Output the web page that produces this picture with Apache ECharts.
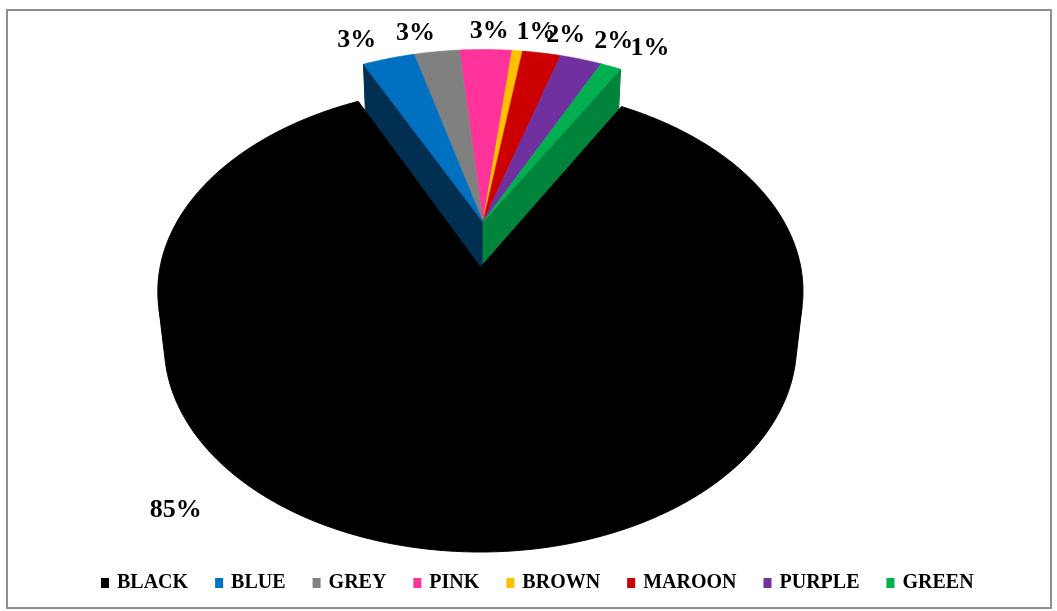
<!DOCTYPE html>
<html><head><meta charset="utf-8">
<script src="https://cdn.jsdelivr.net/npm/echarts@6/dist/echarts.min.js"></script>
<style>html,body{margin:0;padding:0;background:#fff}#c{width:1057px;height:611px}</style>
</head><body><div id="c"></div>
<script>
// ---- data ----
const categories = ['BLACK', 'BLUE', 'GREY', 'PINK', 'BROWN', 'MAROON', 'PURPLE', 'GREEN'];
const values = [85.0, 3.0, 2.6, 3.0, 0.6, 2.2, 2.4, 1.2];
const colors = ['#000000', '#0070C0', '#808080', '#FF3399', '#FFC000', '#CC0000', '#7030A0', '#00B050'];

// ---- 3D view settings ----
const START_DEG = 29;          // first slice starts here, clockwise from the back
const TILT = 38 * Math.PI / 180;
const RHO = 0.1442;            // perspective strength
const K = 312;                 // screen scale
const CX = 483, CY = 222;      // projected pie centre
const DEPTH = 0.22;            // thickness of the pie
const PULL = { BLACK: 0.23 };  // exploded slice distance
const BIG_LABEL_DEG = 225;
const FONT = '"Liberation Serif", "Times New Roman", serif';

const S = Math.sin(TILT), C = Math.cos(TILT);
const CAM = [0, -C / RHO, S / RHO];
const total = values.reduce((a, b) => a + b, 0);
const cum = [];
values.reduce((acc, v, i) => { cum[i] = acc; return acc + v; }, 0);
const D2R = Math.PI / 180;

function proj(X, Y, Z) {
  const yc = Y * S + Z * C;
  const zc = 1 + RHO * (Y * C - Z * S);
  return [CX + K * X / zc, CY - K * yc / zc];
}
function darken(hex, f) {
  const n = parseInt(hex.slice(1), 16);
  const r = Math.round(((n >> 16) & 255) * f), g = Math.round(((n >> 8) & 255) * f), b = Math.round((n & 255) * f);
  return 'rgb(' + r + ',' + g + ',' + b + ')';
}
function sliceGeom(i) {
  const a = (START_DEG + 360 * cum[i] / total) * D2R;
  const b = a + 360 * values[i] / total * D2R;
  const mid = (a + b) / 2;
  const p = PULL[categories[i]] || 0;
  return { a, b, mid, ox: p * Math.sin(mid), oy: p * Math.cos(mid), pull: p };
}
function poly(points, fill, z2, lw) {
  return { type: 'polygon', z2, shape: { points }, style: { fill, stroke: fill, lineWidth: lw, lineJoin: 'round' } };
}

function renderItem(params, api) {
  const i = params.dataIndex;
  const n = categories.length;
  const g = sliceGeom(i);
  const color = colors[i];
  const pt = (th, r, Z) => proj(g.ox + r * Math.sin(th), g.oy + r * Math.cos(th), Z);
  const centroidY = g.oy + 0.5 * Math.cos(g.mid);
  const zb = Math.round((2 - centroidY) * 100);
  const children = [];
  const steps = Math.max(2, Math.ceil((g.b - g.a) / (0.5 * D2R)));
  const arc = (Z) => { const pts = []; for (let k = 0; k <= steps; k++) pts.push(pt(g.a + (g.b - g.a) * k / steps, 1, Z)); return pts; };
  const big = g.pull > 0;

  // outer wall, visible parts only (top edge tucked under the top face)
  let run = [];
  const flush = () => {
    if (run.length > 1) {
      const top = run.map(th => pt(th, 0.97, 0));
      const bot = run.map(th => pt(th, 1, -DEPTH)).reverse();
      const side = [pt(run[run.length - 1], 1, 0)];
      const side0 = [pt(run[0], 1, 0)];
      children.push(poly(side0.concat(top, side, bot), darken(color, 0.6), zb, 1));
    }
    run = [];
  };
  for (let k = 0; k <= steps; k++) {
    const th = g.a + (g.b - g.a) * k / steps;
    const sx = Math.sin(th), cy = Math.cos(th);
    const dot = sx * (CAM[0] - g.ox - sx) + cy * (CAM[1] - g.oy - cy);
    if (dot > 0) run.push(th); else flush();
  }
  flush();

  // radial faces at gaps
  const faces = [
    { th: g.a, nb: (i - 1 + n) % n, nx: -Math.cos(g.a), ny: Math.sin(g.a) },
    { th: g.b, nb: (i + 1) % n, nx: Math.cos(g.b), ny: -Math.sin(g.b) }
  ];
  faces.forEach(f => {
    const nbPull = PULL[categories[f.nb]] || 0;
    if (nbPull === g.pull) return;
    const px = g.ox + 0.5 * Math.sin(f.th), py = g.oy + 0.5 * Math.cos(f.th);
    const dot = f.nx * (CAM[0] - px) + f.ny * (CAM[1] - py);
    if (dot <= 0) return;
    const pts = [proj(g.ox, g.oy, 0), pt(f.th, 1, 0), pt(f.th, 1, -DEPTH), proj(g.ox, g.oy, -DEPTH)];
    children.push(poly(pts, darken(color, f.nx < 0 ? 0.42 : 0.75), zb, 1));
  });

  // top face
  children.push(poly([proj(g.ox, g.oy, 0)].concat(arc(0)), color, zb + 1, big ? 1 : 0.6));

  // label
  const pct = api.value(0) / total * 100;
  const txt = Math.round(pct) + '%';
  let lx, ly;
  if (pct > 50) {
    const p = pt(BIG_LABEL_DEG * D2R, 1.23, -0.85 * DEPTH);
    lx = p[0]; ly = p[1];
  } else {
    const p = pt(g.mid, 1, 0);
    const d = p[0] - CX;
    lx = p[0] + 0.22 * d + 11 * Math.tanh(d / 10);
    ly = p[1] - 18;
  }
  children.push({ type: 'text', z2: 1000, style: { text: txt, x: lx, y: ly, align: 'center', verticalAlign: 'middle', fill: '#000', font: 'bold 26px ' + FONT } });

  return { type: 'group', children };
}

const chart = echarts.init(document.getElementById('c'), null, { renderer: 'canvas' });
chart.setOption({
  animation: false,
  backgroundColor: '#ffffff',
  graphic: [{ type: 'rect', silent: true, z: -10, shape: { x: 7, y: 10, width: 1044, height: 598 }, style: { fill: 'none', stroke: '#8f8f8f', lineWidth: 2 } }],
  legend: {
    data: categories,
    left: 96, top: 568,
    icon: 'rect', itemWidth: 8, itemHeight: 10, itemGap: 27,
    selectedMode: false,
    textStyle: { fontFamily: FONT, fontWeight: 'bold', fontSize: 20, color: '#000', padding: [0, 0, 0, 3] }
  },
  series: [
    {
      type: 'custom', name: 'shares', coordinateSystem: 'none', silent: true,
      data: values.map((v, i) => ({ value: v, name: categories[i] })),
      renderItem
    },
    {
      type: 'pie', name: 'legendSource', radius: [0, 0], center: [CX, CY], silent: true,
      label: { show: false }, labelLine: { show: false },
      data: values.map((v, i) => ({ value: v, name: categories[i], itemStyle: { color: colors[i] } }))
    }
  ]
});
</script></body></html>
